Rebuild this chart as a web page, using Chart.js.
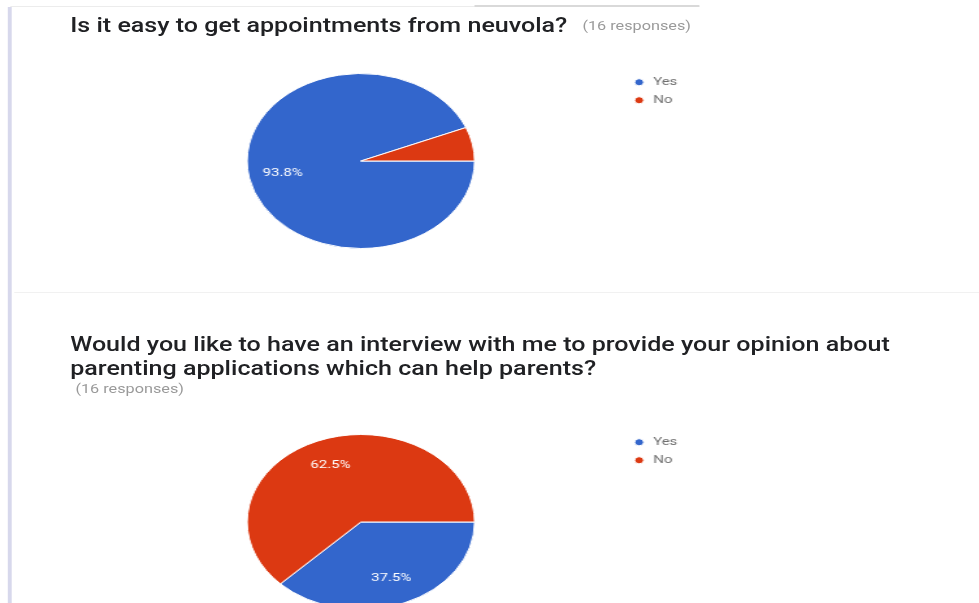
<!DOCTYPE html>
<html>
<head>
<meta charset="utf-8">
<script src="https://cdn.jsdelivr.net/npm/chart.js@4"></script>
<style>
  html, body { margin: 0; padding: 0; background: #fff; }
  body { width: 979px; height: 603px; overflow: hidden; position: relative; font-family: Roboto, sans-serif; }
  /* the reference is a screenshot stretched sideways, so lay out at 753px and stretch by 1.3 */
  #page { position: absolute; left: 0; top: 0; width: 753px; height: 603px; transform: scaleX(1.3); transform-origin: 0 0; }
  .bar { position: absolute; left: 6px; top: 7px; width: 3px; height: 600px; background: #d7d8ec; }
  .topline { position: absolute; left: 8px; top: 6px; width: 530px; height: 1px; background: #ececec; }
  .topline2 { position: absolute; left: 365px; top: 5px; width: 173px; height: 2px; background: #d9d9d9; }
  .sep { position: absolute; left: 11px; top: 292px; width: 742px; height: 1px; background: #f1f1f1; }
  .title { position: absolute; left: 54px; font-size: 19.3px; line-height: 24px; color: #202124; font-weight: 500; white-space: nowrap; }
  .resp { position: absolute; font-size: 12.5px; color: #9a9a9a; white-space: nowrap; }
  canvas { position: absolute; left: 0; }
</style>
</head>
<body>
<div id="page">
  <div class="bar"></div>
  <div class="topline"></div>
  <div class="topline2"></div>
  <div class="sep"></div>
  <div class="title" id="t1" style="top:14px"></div>
  <div class="resp" id="r1" style="left:448px; top:18px"></div>
  <div class="title" id="t2" style="top:333px"></div>
  <div class="resp" id="r2" style="left:58px; top:381px"></div>
  <canvas id="pie1" width="531" height="182" style="top:70px"></canvas>
  <canvas id="pie2" width="531" height="184" style="top:430px"></canvas>
</div>
<script>
const answers = ['Yes', 'No'];
const colors = ['#3366cc', '#dc3912'];

const q1Title = 'Is it easy to get appointments from neuvola?';
const q1Counts = [15, 1];

const q2Title = ['Would you like to have an interview with me to provide your opinion about',
  'parenting applications which can help parents?'];
const q2Counts = [6, 10];

const total = arr => arr.reduce((a, b) => a + b, 0);

document.querySelector('#t1').innerText = q1Title;
document.querySelector('#r1').innerText = `(${total(q1Counts)} responses)`;
document.querySelector('#t2').innerText = q2Title.join('\n');
document.querySelector('#r2').innerText = `(${total(q2Counts)} responses)`;

// percent text inside the slices, like google forms does (small slices get none)
const pctLabels = {
  id: 'pctLabels',
  afterDatasetsDraw(chart) {
    const ctx = chart.ctx;
    const values = chart.data.datasets[0].data;
    const sum = total(values);
    chart.getDatasetMeta(0).data.forEach((arc, i) => {
      const share = values[i] / sum;
      if (share < 0.1) return;
      const mid = (arc.startAngle + arc.endAngle) / 2;
      const r = arc.outerRadius * 0.7;
      ctx.save();
      ctx.fillStyle = '#ffffff';
      ctx.font = '11.5px Roboto';
      ctx.textAlign = 'center';
      ctx.textBaseline = 'middle';
      ctx.fillText((share * 100).toFixed(1) + '%', arc.x + Math.cos(mid) * r, arc.y + Math.sin(mid) * r);
      ctx.restore();
    });
  }
};

const options = {
  responsive: false,
  animation: false,
  devicePixelRatio: 1,
  rotation: 90,
  layout: { padding: { left: 75, right: 0, top: 0, bottom: 0 } },
  plugins: {
    tooltip: { enabled: false },
    legend: {
      position: 'right',
      align: 'start',
      labels: {
        usePointStyle: true,
        pointStyle: 'circle',
        boxWidth: 10,
        boxHeight: 5,
        padding: 6.5,
        color: '#6f6f6f',
        font: { family: 'Roboto', size: 11.5 }
      }
    }
  }
};

const makePie = (id, counts) => new Chart(document.querySelector(id).getContext('2d'), {
  type: 'pie',
  data: {
    labels: answers,
    datasets: [{
      data: counts,
      backgroundColor: colors,
      borderColor: '#ffffff',
      borderWidth: 1,
      radius: 87.5
    }]
  },
  options: options,
  plugins: [pctLabels]
});

const chart1 = makePie('#pie1', q1Counts);
const chart2 = makePie('#pie2', q2Counts);
</script>
</body>
</html>
